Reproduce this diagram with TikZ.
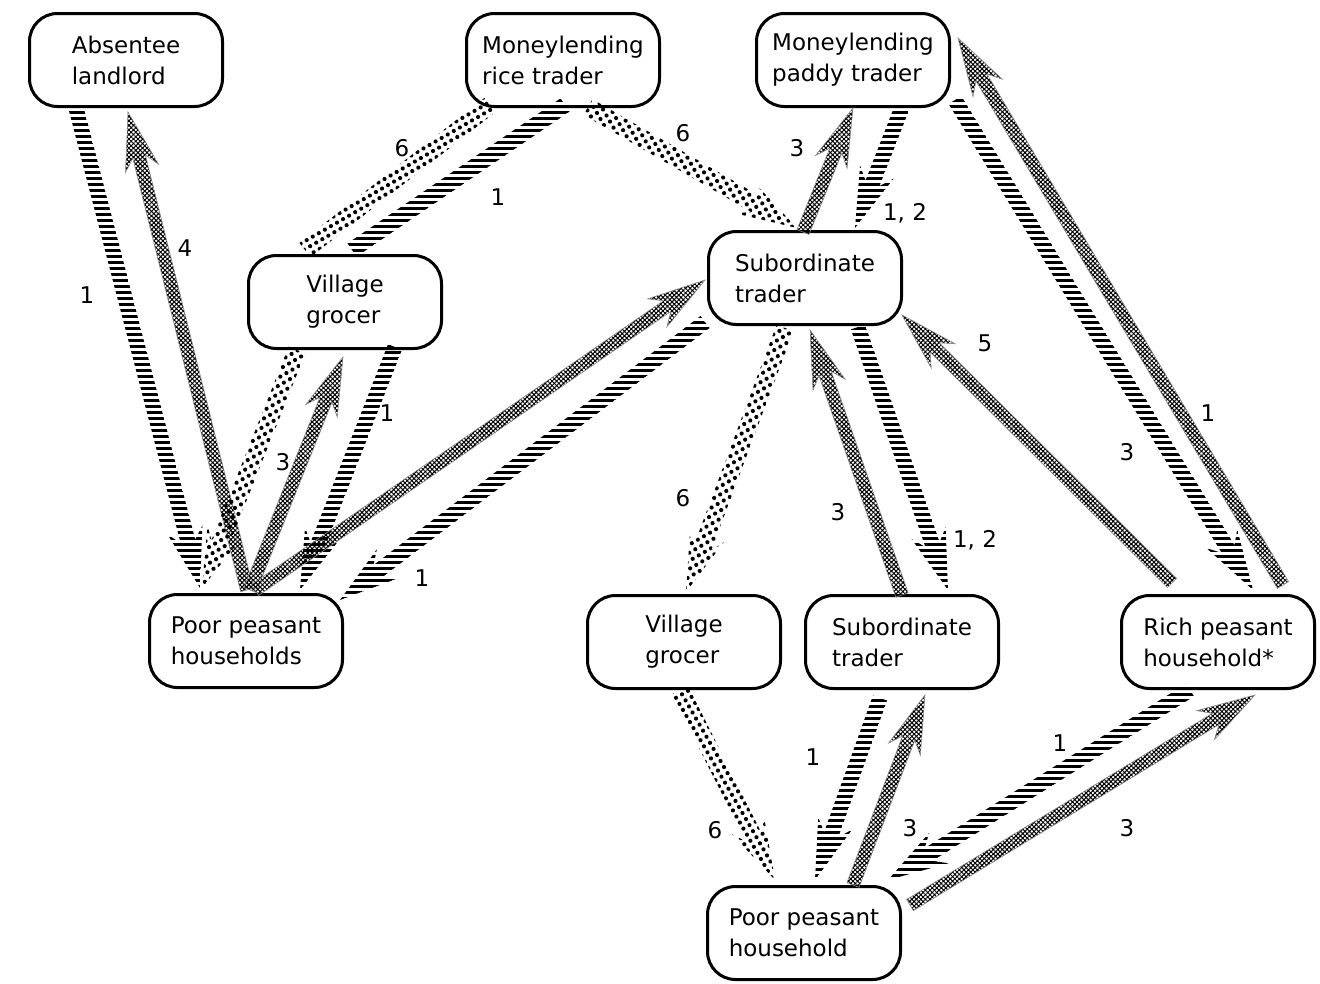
\documentclass[tikz,border=0pt]{standalone}
\usepackage{fontspec}
\setmainfont{DejaVu Sans}
\usetikzlibrary{calc,patterns.meta}

\tikzset{
  party/.style={draw, line width=3pt, rounded corners=28pt,
    minimum width=193pt, minimum height=93pt, align=left, inner sep=0pt,
    font=\fontsize{23}{31}\selectfont},
  flowlabel/.style={font=\fontsize{23}{28}\selectfont, inner sep=0pt},
  hatchfill/.style={pattern={Lines[angle=0,distance=6pt,line width=3pt]}},
  crossfill/.style={pattern={Hatch[angle=45,distance=3.2pt,line width=1pt]},
    draw=black!45, line width=0.6pt},
  speckfill/.style={pattern={Dots[angle=30,distance=7pt,radius=2.1pt]}},
}

% broad arrow: style, half shaft, half head, joint distance, barb distance, from, to
\newcommand{\flowarrow}[7]{%
  \coordinate (fa-s) at (#6);
  \coordinate (fa-t) at (#7);
  \coordinate (fa-j) at ($(fa-t)!#4!(fa-s)$);
  \coordinate (fa-b) at ($(fa-t)!#5!(fa-s)$);
  \path[#1] ($(fa-s)!#2!90:(fa-t)$) -- ($(fa-j)!#2!90:(fa-t)$)
    -- ($(fa-b)!#3!90:(fa-t)$) -- (fa-t) -- ($(fa-b)!#3!-90:(fa-t)$)
    -- ($(fa-j)!#2!-90:(fa-t)$) -- ($(fa-s)!#2!-90:(fa-t)$) -- cycle;
}
% broad band without a head: style, half width, from, to
\newcommand{\flowband}[4]{%
  \coordinate (fa-s) at (#3);
  \coordinate (fa-t) at (#4);
  \path[#1] ($(fa-s)!#2!90:(fa-t)$) -- ($(fa-t)!#2!-90:(fa-s)$)
    -- ($(fa-t)!#2!90:(fa-s)$) -- ($(fa-s)!#2!-90:(fa-t)$) -- cycle;
}
\newcommand{\hatchflow}[2]{\flowarrow{hatchfill}{7.5pt}{18pt}{48pt}{60pt}{#1}{#2}}
\newcommand{\crossflow}[2]{\flowarrow{crossfill}{6.5pt}{17pt}{46pt}{58pt}{#1}{#2}}
\newcommand{\speckflow}[2]{\flowarrow{speckfill}{9pt}{18pt}{48pt}{60pt}{#1}{#2}}

\begin{document}
\begin{tikzpicture}[x=1pt,y=-1pt]
\useasboundingbox (0,0) rectangle (1320,983);

% actors
\node[party] (al)   at (126,60)  {Absentee\\landlord};
\node[party] (rt)   at (563,60)  {Moneylending\\rice trader};
\node[party] (pt)   at (853,60)  {Moneylending\\paddy trader};
\node[party] (vg1)  at (345,302) {Village\\grocer};
\node[party] (st1)  at (805,278) {Subordinate\\trader};
\node[party] (pph)  at (246,641) {Poor peasant\\households};
\node[party] (vg2)  at (684,642) {Village\\grocer};
\node[party] (st2)  at (902,642) {Subordinate\\trader};
\node[party] (rph)  at (1218,642) {Rich peasant\\household*};
\node[party] (pph2) at (804,933) {Poor peasant\\household};

% left-hand village
\hatchflow{$(al)+(-50,48)$}{$(pph)+(-46,-53)$}
\crossflow{$(pph)+(1,-51)$}{$(al)+(2,52)$}
\flowband{hatchfill}{8pt}{$(rt)+(2,45)$}{$(vg1)+(7,-52)$}
\flowband{speckfill}{9pt}{$(rt)+(-73,45)$}{$(vg1)+(-40,-52)$}
\speckflow{$(vg1)+(-48,48)$}{$(pph)+(-44,-53)$}
\hatchflow{$(vg1)+(50,45)$}{$(pph)+(54,-51)$}
\crossflow{$(pph)+(4,-51)$}{$(vg1)+(-2,55)$}
\crossflow{$(pph)+(9,-51)$}{$(st1)+(-100,2)$}
\hatchflow{$(st1)+(-100,44)$}{$(pph)+(94,-41)$}

% traders
\speckflow{$(rt)+(25,47)$}{$(st1)+(-8,-50)$}
\crossflow{$(st1)+(-2,-46)$}{$(pt)+(0,48)$}
\hatchflow{$(pt)+(50,45)$}{$(st1)+(50,-50)$}
\speckflow{$(st1)+(-20,50)$}{$(vg2)+(2,-50)$}
\crossflow{$(st2)+(0,-47)$}{$(st1)+(5,52)$}
\hatchflow{$(st1)+(53,49)$}{$(st2)+(46,-52)$}
\crossflow{$(rph)+(-46,-59)$}{$(st1)+(97,37)$}
\hatchflow{$(pt)+(102,40)$}{$(rph)+(35,-52)$}
\crossflow{$(rph)+(65,-57)$}{$(pt)+(105,-22)$}

% right-hand village
\speckflow{$(vg2)+(-4,48)$}{$(pph2)+(-29,-53)$}
\hatchflow{$(st2)+(-22,56)$}{$(pph2)+(11,-53)$}
\crossflow{$(pph2)+(49,-48)$}{$(st2)+(23,53)$}
\hatchflow{$(rph)+(-28,48)$}{$(pph2)+(84,-53)$}
\crossflow{$(pph2)+(106,-28)$}{$(rph)+(37,53)$}

% flow numbers
\node[flowlabel] (l01) at (87,295)   {1};
\node[flowlabel] (l02) at (185,248)  {4};
\node[flowlabel] (l03) at (402,148)  {6};
\node[flowlabel] (l04) at (498,197)  {1};
\node[flowlabel] (l05) at (683,133)  {6};
\node[flowlabel] (l06) at (797,148)  {3};
\node[flowlabel] (l07) at (905,213)  {1, 2};
\node[flowlabel] (l08) at (283,462)  {3};
\node[flowlabel] (l09) at (387,413)  {1};
\node[flowlabel] (l10) at (422,578)  {1};
\node[flowlabel] (l11) at (683,498)  {6};
\node[flowlabel] (l12) at (838,512)  {3};
\node[flowlabel] (l13) at (975,540)  {1, 2};
\node[flowlabel] (l14) at (985,343)  {5};
\node[flowlabel] (l15) at (1127,452) {3};
\node[flowlabel] (l16) at (1208,413) {1};
\node[flowlabel] (l17) at (813,757)  {1};
\node[flowlabel] (l18) at (715,830)  {6};
\node[flowlabel] (l19) at (910,828)  {3};
\node[flowlabel] (l20) at (1060,743) {1};
\node[flowlabel] (l21) at (1127,828) {3};
\end{tikzpicture}
\end{document}
